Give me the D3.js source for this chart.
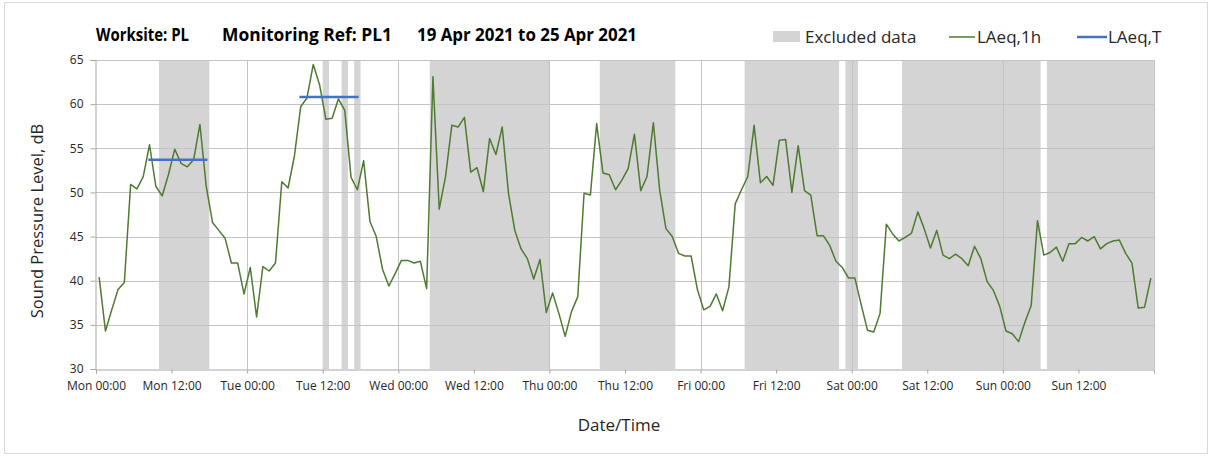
<!DOCTYPE html>
<html>
<head>
<meta charset="utf-8">
<script src="https://cdn.jsdelivr.net/npm/d3@7"></script>
<style>
  body { margin: 0; background: #fff; }
  text { font-family: "Open Sans", Lato, sans-serif; }
</style>
</head>
<body>
<div id="chart"></div>
<script>
// hourly LAeq,1h, Mon 00:00 -> Sun 23:00 (one value per hour)
const laeq1h = [
  40.4, 34.3, 36.7, 39.0, 39.8, 50.9, 50.4, 51.8, 55.4, 50.7, 49.6, 52.0,
  54.9, 53.3, 52.9, 53.7, 57.7, 50.7, 46.6, 45.7, 44.8, 42.0, 42.0, 38.5,
  41.5, 35.9, 41.6, 41.1, 42.0, 51.2, 50.5, 54.1, 59.7, 60.7, 64.5, 62.2,
  58.3, 58.4, 60.6, 59.3, 51.7, 50.3, 53.6, 46.7, 45.0, 41.3, 39.4, 40.8,
  42.3, 42.3, 42.0, 42.2, 39.1, 63.1, 48.1, 51.8, 57.6, 57.4, 58.5, 52.3,
  52.8, 50.1, 56.1, 54.3, 57.4, 49.9, 45.7, 43.6, 42.5, 40.2, 42.4, 36.4,
  38.6, 36.3, 33.7, 36.5, 38.2, 49.9, 49.7, 57.8, 52.2, 52.0, 50.3, 51.4,
  52.7, 56.6, 50.2, 51.8, 57.9, 50.3, 45.9, 45.0, 43.1, 42.8, 42.8, 39.0,
  36.7, 37.1, 38.5, 36.6, 39.3, 48.7, 50.3, 51.8, 57.6, 51.1, 51.8, 50.8,
  55.9, 56.0, 50.0, 55.3, 50.2, 49.7, 45.1, 45.1, 44.0, 42.2, 41.5, 40.3,
  40.3, 37.3, 34.4, 34.2, 36.3, 46.4, 45.3, 44.5, 44.9, 45.4, 47.8, 45.9,
  43.7, 45.7, 42.9, 42.5, 43.0, 42.5, 41.7, 43.9, 42.5, 39.9, 38.9, 37.1,
  34.3, 34.0, 33.1, 35.3, 37.2, 46.8, 42.9, 43.2, 43.8, 42.2, 44.2, 44.2,
  44.9, 44.5, 45.0, 43.6, 44.2, 44.5, 44.6, 43.1, 42.0, 36.9, 37.0, 40.3
];

// LAeq,T periods (hour index from / to, level)
const laeqTFrom = [8, 32];
const laeqTTo = [17, 41];
const laeqTValue = [53.7, 60.8];

// excluded data periods, hours from Mon 00:00
const excludedStart = [10, 36, 39, 41, 53, 80, 103, 119, 128, 151];
const excludedEnd   = [18, 37, 40, 42, 72, 92, 118, 121, 150, 168];

const xTickHours = d3.range(0, 169, 12);
const xTickLabels = ["Mon 00:00", "Mon 12:00", "Tue 00:00", "Tue 12:00", "Wed 00:00",
  "Wed 12:00", "Thu 00:00", "Thu 12:00", "Fri 00:00", "Fri 12:00", "Sat 00:00",
  "Sat 12:00", "Sun 00:00", "Sun 12:00", ""];
const yTicks = [30, 35, 40, 45, 50, 55, 60, 65];

const W = 1212, H = 457;
const margin = { top: 60, right: 58, bottom: 88, left: 96 };
const width = W - margin.left - margin.right,
      height = H - margin.top - margin.bottom;

const svg = d3.select("#chart").append("svg")
  .attr("width", W)
  .attr("height", H);

// chart border
svg.append("rect")
  .attr("x", 4.5).attr("y", 2.5)
  .attr("width", W - 9).attr("height", H - 6)
  .style("fill", "none")
  .style("stroke", "#d9d9d9");

const g = svg.append("g")
  .attr("transform", `translate(${margin.left},${margin.top})`);

const x = d3.scaleLinear().domain([0, 168]).range([0, width]);
const y = d3.scaleLinear().domain([30, 65]).range([height, 0]);

// excluded bands
g.selectAll("rect.excl")
  .data(excludedStart)
  .enter().append("rect")
    .attr("class", "excl")
    .attr("x", d => x(d))
    .attr("width", (d, i) => x(excludedEnd[i]) - x(d))
    .attr("y", 0)
    .attr("height", height)
    .style("fill", "#d4d4d4");

// grid
g.selectAll("line.hgrid")
  .data(yTicks.slice(1))
  .enter().append("line")
    .attr("class", "hgrid")
    .attr("x1", 0).attr("x2", width)
    .attr("y1", d => Math.round(y(d)) + 0.5)
    .attr("y2", d => Math.round(y(d)) + 0.5)
    .style("stroke", "#c4c4c4");

g.selectAll("line.vgrid")
  .data(d3.range(24, 169, 24))
  .enter().append("line")
    .attr("class", "vgrid")
    .attr("x1", d => Math.round(x(d)) + 0.5)
    .attr("x2", d => Math.round(x(d)) + 0.5)
    .attr("y1", 0).attr("y2", height)
    .style("stroke", "#c4c4c4");

// axes
const xAxis = g.append("g")
  .attr("transform", `translate(0,${height + 0.5})`)
  .call(d3.axisBottom(x).tickValues(xTickHours)
    .tickFormat((d, i) => xTickLabels[i]).tickSize(4).tickPadding(8));

const yAxis = g.append("g")
  .attr("transform", "translate(-0.5,0)")
  .call(d3.axisLeft(y).tickValues(yTicks).tickSize(5).tickPadding(7));

[xAxis, yAxis].forEach(a => {
  a.select(".domain").style("stroke", "#a6a6a6");
  a.selectAll(".tick line").style("stroke", "#a6a6a6");
  a.selectAll("text")
    .style("font-size", "12px")
    .style("fill", "#262626")
    .style("font-family", "\"Open Sans\", sans-serif");
});

// LAeq,1h line
const line = d3.line()
  .x((d, i) => x(i + 0.5))
  .y(d => y(d));

g.append("path")
  .datum(laeq1h)
  .attr("d", line)
  .style("fill", "none")
  .style("stroke", "#4f7a32")
  .style("stroke-width", 1.5)
  .style("stroke-linejoin", "round");

// LAeq,T lines
g.selectAll("line.laeqT")
  .data(laeqTValue)
  .enter().append("line")
    .attr("class", "laeqT")
    .attr("x1", (d, i) => x(laeqTFrom[i] + 0.5))
    .attr("x2", (d, i) => x(laeqTTo[i] + 0.5))
    .attr("y1", d => y(d))
    .attr("y2", d => y(d))
    .style("stroke", "#4472c4")
    .style("stroke-width", 2.5)
    .style("stroke-linecap", "square");

// title
const titleParts = ["Worksite: PL", "Monitoring Ref: PL1", "19 Apr 2021 to 25 Apr 2021"];
const titleX = [96, 222, 417];
const titleW = [93, 170, 220];
svg.selectAll("text.title")
  .data(titleParts)
  .enter().append("text")
    .attr("class", "title")
    .attr("x", (d, i) => titleX[i])
    .attr("y", 41)
    .attr("textLength", (d, i) => titleW[i])
    .attr("lengthAdjust", "spacingAndGlyphs")
    .style("font-size", "17px")
    .style("font-weight", "bold")
    .style("fill", "#000")
    .text(d => d);

// axis titles
svg.append("text")
  .attr("transform", "translate(43,221) rotate(-90)")
  .attr("text-anchor", "middle")
  .style("font-size", "16.5px")
  .style("fill", "#262626")
  .text("Sound Pressure Level, dB");

svg.append("text")
  .attr("x", 619)
  .attr("y", 431)
  .attr("text-anchor", "middle")
  .style("font-size", "17px")
  .style("fill", "#262626")
  .text("Date/Time");

// legend
const legend = svg.append("g").attr("transform", "translate(773,37)");
legend.append("rect")
  .attr("x", 0).attr("y", -6).attr("width", 27).attr("height", 11)
  .style("fill", "#d4d4d4");
legend.append("text").attr("x", 32).attr("y", 6)
  .style("font-size", "17px").style("fill", "#262626").text("Excluded data");
legend.append("line")
  .attr("x1", 176).attr("x2", 202).attr("y1", 0).attr("y2", 0)
  .style("stroke", "#4f7a32").style("stroke-width", 1.5);
legend.append("text").attr("x", 204).attr("y", 6)
  .style("font-size", "17px").style("fill", "#262626").text("LAeq,1h");
legend.append("line")
  .attr("x1", 304).attr("x2", 334).attr("y1", 0).attr("y2", 0)
  .style("stroke", "#4472c4").style("stroke-width", 2.5);
legend.append("text").attr("x", 335).attr("y", 6)
  .style("font-size", "17px").style("fill", "#262626").text("LAeq,T");
</script>
</body>
</html>
